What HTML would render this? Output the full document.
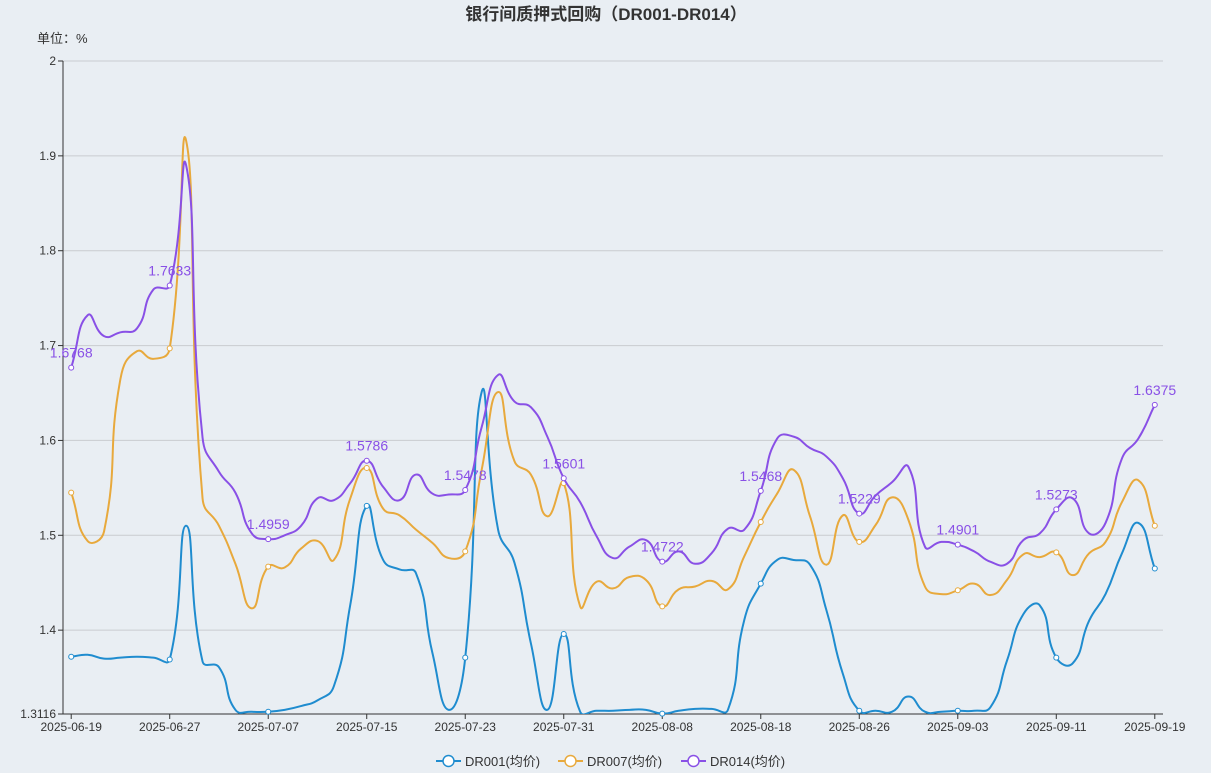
<!DOCTYPE html>
<html><head><meta charset="utf-8"><style>
html,body{margin:0;padding:0;background:#e9eef3;}
svg{display:block;font-family:"Liberation Sans","Noto Sans CJK SC",sans-serif;}
</style></head><body>
<svg id="chart" width="1211" height="773" viewBox="0 0 1211 773">
<defs><clipPath id="plotclip"><rect x="63" y="0" width="1110" height="714"/></clipPath></defs>
<rect x="0" y="0" width="1211" height="773" fill="#e9eef3"/>
<text x="606" y="20" text-anchor="middle" font-size="17" font-weight="bold" fill="#333">银行间质押式回购（DR001-DR014）</text>
<text x="37" y="43" font-size="13" fill="#333">单位：%</text>
<g id="grid"></g><g id="axes"></g><g id="series"></g><g id="legend"></g>
</svg>
<script>
const dr001 = [1.372,1.374,1.370,1.371,1.372,1.371,1.369,1.510,1.367,1.361,1.316,1.314,1.314,1.316,1.320,1.326,1.341,1.427,1.531,1.474,1.464,1.460,1.376,1.316,1.371,1.651,1.506,1.471,1.386,1.316,1.396,1.314,1.315,1.315,1.316,1.316,1.312,1.315,1.317,1.317,1.316,1.411,1.449,1.474,1.474,1.469,1.421,1.354,1.315,1.315,1.314,1.330,1.314,1.314,1.315,1.315,1.319,1.368,1.417,1.426,1.371,1.365,1.410,1.438,1.481,1.513,1.465];
const dr007 = [1.545,1.494,1.504,1.665,1.694,1.686,1.697,1.916,1.539,1.510,1.470,1.423,1.467,1.466,1.486,1.494,1.474,1.539,1.571,1.528,1.521,1.506,1.492,1.476,1.483,1.569,1.651,1.578,1.564,1.520,1.555,1.425,1.451,1.444,1.456,1.453,1.425,1.443,1.446,1.452,1.443,1.478,1.514,1.544,1.569,1.520,1.469,1.521,1.493,1.511,1.540,1.516,1.446,1.438,1.442,1.449,1.437,1.453,1.480,1.477,1.482,1.458,1.481,1.493,1.535,1.558,1.510];
const dr014 = [1.6768,1.732,1.710,1.714,1.718,1.759,1.7633,1.890,1.603,1.567,1.545,1.502,1.4959,1.500,1.510,1.539,1.537,1.555,1.5786,1.551,1.537,1.564,1.544,1.543,1.5478,1.614,1.669,1.641,1.635,1.604,1.5601,1.535,1.499,1.476,1.488,1.495,1.4722,1.483,1.470,1.481,1.507,1.506,1.5468,1.602,1.604,1.592,1.583,1.560,1.5229,1.542,1.556,1.572,1.488,1.493,1.4901,1.483,1.472,1.470,1.495,1.502,1.5273,1.539,1.502,1.513,1.581,1.602,1.6375];
const dates = ["2025-06-19","2025-06-20","2025-06-23","2025-06-24","2025-06-25","2025-06-26","2025-06-27","2025-06-30","2025-07-01","2025-07-02","2025-07-03","2025-07-04","2025-07-07","2025-07-08","2025-07-09","2025-07-10","2025-07-11","2025-07-14","2025-07-15","2025-07-16","2025-07-17","2025-07-18","2025-07-21","2025-07-22","2025-07-23","2025-07-24","2025-07-25","2025-07-28","2025-07-29","2025-07-30","2025-07-31","2025-08-01","2025-08-04","2025-08-05","2025-08-06","2025-08-07","2025-08-08","2025-08-11","2025-08-12","2025-08-13","2025-08-14","2025-08-15","2025-08-18","2025-08-19","2025-08-20","2025-08-21","2025-08-22","2025-08-25","2025-08-26","2025-08-27","2025-08-28","2025-08-29","2025-09-01","2025-09-02","2025-09-03","2025-09-04","2025-09-05","2025-09-08","2025-09-09","2025-09-10","2025-09-11","2025-09-12","2025-09-15","2025-09-16","2025-09-17","2025-09-18","2025-09-19"];
const yTicks = [1.3116,1.4,1.5,1.6,1.7,1.8,1.9,2];
const seriesNames = ["DR001(均价)","DR007(均价)","DR014(均价)"];

const NS="http://www.w3.org/2000/svg";
const L=63,R=1163,T=61,B=714,YMIN=1.3116,YMAX=2;
const step=(R-L)/dates.length;
function xs(i){return L+step*(i+0.5);}
function ys(v){return B-(v-YMIN)/(YMAX-YMIN)*(B-T);}
function mk(tag,attrs,parent){const e=document.createElementNS(NS,tag);for(const k in attrs)e.setAttribute(k,attrs[k]);parent.appendChild(e);return e;}
const grid=document.getElementById('grid'),axes=document.getElementById('axes'),ser=document.getElementById('series'),leg=document.getElementById('legend');

yTicks.forEach(t=>{
  const y=ys(t);
  if(t>YMIN){const g=mk('line',{x1:L,x2:R,y1:y,y2:y,stroke:'#c9ccd0','stroke-width':1},grid);
  
  }
  const tx=mk('text',{x:L-7,y:y+4,'text-anchor':'end','font-size':12,fill:'#333'},axes);
  tx.textContent=String(t);
  
  
  const tk=mk('line',{x1:L-5,x2:L,y1:y,y2:y,stroke:'#333'},axes);
  
  
});
const ya=mk('line',{x1:L,x2:L,y1:T,y2:B,stroke:'#333'},axes);


const xa=mk('line',{x1:L,x2:R,y1:B,y2:B,stroke:'#333'},axes);


for(let i=0;i<dates.length;i+=6){
  const x=xs(i);
  const tk=mk('line',{x1:x,x2:x,y1:B,y2:B+5,stroke:'#333'},axes);
  
  
  const tx=mk('text',{x:x,y:B+17,'text-anchor':'middle','font-size':12,fill:'#333'},axes);
  tx.textContent=dates[i];
  
  
}
function smoothPath(pts){
  const s=0.5;let d='M'+pts[0][0]+','+pts[0][1];
  const cps=pts.map((p,i)=>{
    const pr=pts[Math.max(0,i-1)],nx=pts[Math.min(pts.length-1,i+1)];
    const vx=(nx[0]-pr[0])*s,vy=(nx[1]-pr[1])*s;
    const d0=Math.hypot(p[0]-pr[0],p[1]-pr[1]),d1=Math.hypot(nx[0]-p[0],nx[1]-p[1]);
    const sum=d0+d1||1;
    return [[p[0]-vx*d0/sum,p[1]-vy*d0/sum],[p[0]+vx*d1/sum,p[1]+vy*d1/sum]];
  });
  for(let i=1;i<pts.length;i++){
    const a=cps[i-1][1],b=cps[i][0];
    d+=' C'+a[0].toFixed(2)+','+a[1].toFixed(2)+' '+b[0].toFixed(2)+','+b[1].toFixed(2)+' '+pts[i][0].toFixed(2)+','+pts[i][1].toFixed(2);
  }
  return d;
}
const colors=['#1f8ccf','#e8a93c','#8950e6'];
const names=['dr001','dr007','dr014'];
[dr001,dr007,dr014].forEach((arr,si)=>{
  const pts=arr.map((v,i)=>[xs(i),ys(v)]);
  const p=mk('path',{d:smoothPath(pts),fill:'none',stroke:colors[si],'stroke-width':2,'clip-path':'url(#plotclip)'},ser);
  
  
  for(let i=0;i<arr.length;i+=6){
    const c=mk('circle',{cx:pts[i][0],cy:pts[i][1],r:2.5,fill:'#fff',stroke:colors[si],'stroke-width':1},ser);
    
    
    if(si===2){
      const t=mk('text',{x:pts[i][0],y:pts[i][1]-10,'text-anchor':'middle','font-size':14,fill:colors[si]},ser);
      t.textContent=String(arr[i]);
      
      
    }
  }
});
const lx=[436,558,681];
seriesNames.forEach((n,si)=>{
  const g=mk('g',{},leg);
  
  
  mk('line',{x1:lx[si],x2:lx[si]+25,y1:761,y2:761,stroke:colors[si],'stroke-width':2},g);
  mk('circle',{cx:lx[si]+12.5,cy:761,r:5.5,fill:'#fff',stroke:colors[si],'stroke-width':1.5},g);
  const t=mk('text',{x:lx[si]+29,y:766,'font-size':13,fill:'#333'},g);
  t.textContent=n;
});
</script>
</body></html>
